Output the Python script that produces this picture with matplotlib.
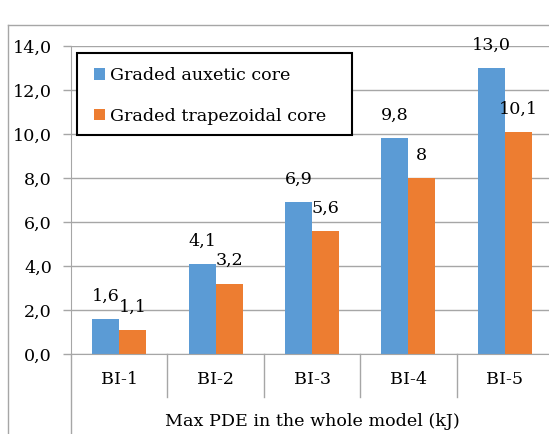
import matplotlib
matplotlib.use("Agg")
import matplotlib.pyplot as plt
from matplotlib.lines import Line2D
from matplotlib.patches import Rectangle
import numpy as np

## Data

categories = ["BI-1", "BI-2", "BI-3", "BI-4", "BI-5"]
auxetic = [1.6, 4.1, 6.9, 9.8, 13.0]
trapezoidal = [1.1, 3.2, 5.6, 8.0, 10.1]
auxetic_labels = ["1,6", "4,1", "6,9", "9,8", "13,0"]
trapezoidal_labels = ["1,1", "3,2", "5,6", "8", "10,1"]
yticks = [0, 2, 4, 6, 8, 10, 12, 14]
ytick_labels = ["0,0", "2,0", "4,0", "6,0", "8,0", "10,0", "12,0", "14,0"]

blue = "#5B9BD5"
orange = "#ED7D31"
grid_grey = "#A6A6A6"
fs = 12.6

plt.rcParams["font.family"] = ["DejaVu Serif"]

## Figure

fig = plt.figure(figsize=(5.49, 4.34), dpi=100)
ax = fig.add_axes([71 / 549, 80 / 434, 482 / 549, 308 / 434])

x = np.arange(len(categories))
w = 0.28
ax.bar(x - w / 2, auxetic, w, color=blue, label="Graded auxetic core")
ax.bar(x + w / 2, trapezoidal, w, color=orange, label="Graded trapezoidal core")

# value labels above the bars
for xi, v, t in zip(x - w / 2, auxetic, auxetic_labels):
    ax.annotate(t, (xi, v), xytext=(0, 16.5), textcoords="offset points",
                ha="center", va="center", fontsize=fs)
for xi, v, t in zip(x + w / 2, trapezoidal, trapezoidal_labels):
    ax.annotate(t, (xi, v), xytext=(0, 16.5), textcoords="offset points",
                ha="center", va="center", fontsize=fs)

ax.set_xlim(-0.5, 4.5)
ax.set_ylim(0, 14)
ax.set_yticks(yticks)
ax.set_yticklabels(ytick_labels, fontsize=fs)
ax.set_xticks(x)
ax.set_xticklabels(categories, fontsize=fs)
ax.tick_params(axis="x", length=0, pad=12)
ax.tick_params(axis="y", length=5.8, width=1, color=grid_grey, pad=8)

ax.grid(axis="y", color=grid_grey, lw=1)
ax.set_axisbelow(True)
for s in ["top", "right"]:
    ax.spines[s].set_visible(False)
ax.spines["left"].set_color(grid_grey)
ax.spines["bottom"].set_color(grid_grey)

# category separators and axis line running down past the labels
tr = ax.get_xaxis_transform()
for sx in [0.5, 1.5, 2.5, 3.5, 4.5]:
    ax.plot([sx, sx], [0, -43 / 308], transform=tr, color=grid_grey, lw=1, clip_on=False)
ax.plot([-0.5, -0.5], [0, -81 / 308], transform=tr, color=grid_grey, lw=1, clip_on=False)

ax.text(0.5, -67 / 308, "Max PDE in the whole model (kJ)", transform=ax.transAxes,
        ha="center", va="center", fontsize=fs)

# outer frame
fig.add_artist(Line2D([8 / 549, 8 / 549], [0, 1 - 25 / 434], color=grid_grey, lw=1))
fig.add_artist(Line2D([8 / 549, 1], [1 - 25 / 434, 1 - 25 / 434], color=grid_grey, lw=1))

# legend box drawn separately so the padding can be wider on the right
ax.add_patch(Rectangle((77 / 549, 1 - 135 / 434), 275 / 549, 82 / 434,
                       transform=fig.transFigure, facecolor="white",
                       edgecolor="black", lw=1.5, zorder=4, clip_on=False))
leg = ax.legend(loc="upper left", bbox_to_anchor=(94 / 549, 1 - 67 / 434),
                bbox_transform=fig.transFigure, fontsize=fs, frameon=False,
                handlelength=0.62, handleheight=0.62, handletextpad=0.29,
                labelspacing=1.37, borderpad=0, borderaxespad=0)
leg.set_zorder(5)

fig.savefig("out.png", dpi=100)
